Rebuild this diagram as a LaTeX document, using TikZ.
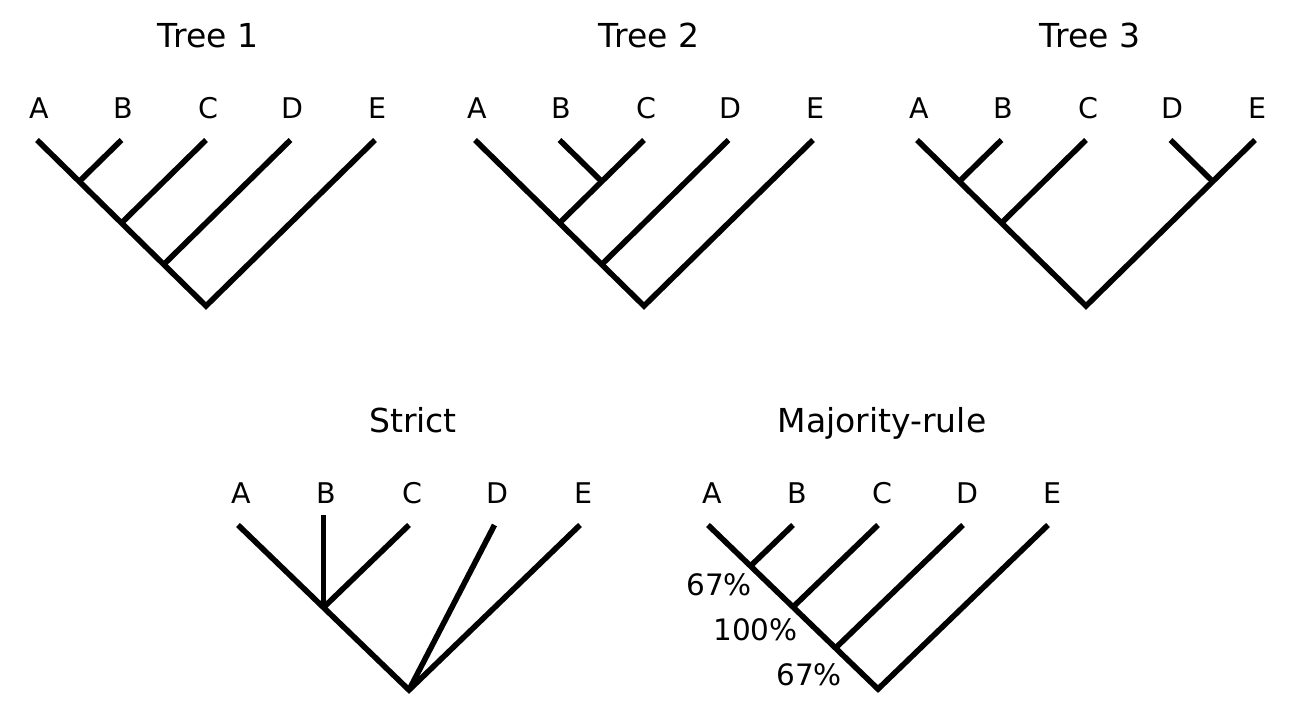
\documentclass[tikz,border=0pt]{standalone}
\usepackage{fontspec}
\setmainfont{DejaVu Sans}
\begin{document}
\begin{tikzpicture}[x=1pt,y=-1pt,
  branch/.style={line width=5.6pt,line cap=butt,line join=miter},
  leaf/.style={font=\fontsize{28.5}{30}\selectfont,anchor=base,inner sep=0pt},
  title/.style={font=\fontsize{33}{35}\selectfont,anchor=base,inner sep=0pt},
  pct/.style={font=\fontsize{29.5}{31}\selectfont,anchor=base east,inner sep=0pt}]
\useasboundingbox[fill=white] (0,0) rectangle (1296,718);
% ---------- Tree 1 ----------
\def\xo{37}\def\d{84.5}\def\t{140}\def\s{0.982}
\node[title] (t1) at (208,47) {Tree 1};
\foreach \n [count=\k from 0] in {A,B,C,D,E}{
  \coordinate (a\n) at ({\xo+\k*\d},\t);
  \node[leaf] (la\n) at ({\xo+\k*\d+2},118) {\n};
}
\coordinate (aAB) at ({\xo+0.5*\d},{\t+\s*0.5*\d});
\coordinate (aABC) at ({\xo+1*\d},{\t+\s*1*\d});
\coordinate (aABCD) at ({\xo+1.5*\d},{\t+\s*1.5*\d});
\coordinate (aR) at ({\xo+2*\d},{\t+\s*2*\d});
\draw[branch] (aA) -- (aR) -- (aE);
\draw[branch] (aB) -- (aAB);
\draw[branch] (aC) -- (aABC);
\draw[branch] (aD) -- (aABCD);
% ---------- Tree 2 ----------
\def\xo{475}
\node[title] (t2) at (649,47) {Tree 2};
\foreach \n [count=\k from 0] in {A,B,C,D,E}{
  \coordinate (b\n) at ({\xo+\k*\d},\t);
  \node[leaf] (lb\n) at ({\xo+\k*\d+2},118) {\n};
}
\coordinate (bBC) at ({\xo+1.5*\d},{\t+\s*0.5*\d});
\coordinate (bABC) at ({\xo+1*\d},{\t+\s*1*\d});
\coordinate (bABCD) at ({\xo+1.5*\d},{\t+\s*1.5*\d});
\coordinate (bR) at ({\xo+2*\d},{\t+\s*2*\d});
\draw[branch] (bA) -- (bR) -- (bE);
\draw[branch] (bB) -- (bBC);
\draw[branch] (bC) -- (bABC);
\draw[branch] (bD) -- (bABCD);
% ---------- Tree 3 ----------
\def\xo{917}
\node[title] (t3) at (1090,47) {Tree 3};
\foreach \n [count=\k from 0] in {A,B,C,D,E}{
  \coordinate (c\n) at ({\xo+\k*\d},\t);
  \node[leaf] (lc\n) at ({\xo+\k*\d+2},118) {\n};
}
\coordinate (cAB) at ({\xo+0.5*\d},{\t+\s*0.5*\d});
\coordinate (cABC) at ({\xo+1*\d},{\t+\s*1*\d});
\coordinate (cDE) at ({\xo+3.5*\d},{\t+\s*0.5*\d});
\coordinate (cR) at ({\xo+2*\d},{\t+\s*2*\d});
\draw[branch] (cA) -- (cR) -- (cE);
\draw[branch] (cB) -- (cAB);
\draw[branch] (cC) -- (cABC);
\draw[branch] (cD) -- (cDE);
% ---------- Strict ----------
\def\xo{238}\def\d{85.5}\def\t{525}\def\s{0.965}
\node[title] (t4) at (413,432) {Strict};
\foreach \n [count=\k from 0] in {A,B,C,D,E}{
  \coordinate (d\n) at ({\xo+\k*\d},\t);
  \node[leaf] (ld\n) at ({\xo+\k*\d+3},503) {\n};
}
\coordinate (dBtop) at ({\xo+\d},515);
\coordinate (dABC) at ({\xo+1*\d},{\t+\s*1*\d});
\coordinate (dR) at ({\xo+2*\d},{\t+\s*2*\d});
\draw[branch] (dA) -- (dR) -- (dE);
\draw[branch] (dBtop) -- (dABC);
\draw[branch] (dC) -- (dABC);
\draw[branch] (dD) -- (dR);
% ---------- Majority-rule ----------
\def\xo{708}\def\d{85}
\node[title] (t5) at (882,432) {Majority-rule};
\foreach \n [count=\k from 0] in {A,B,C,D,E}{
  \coordinate (e\n) at ({\xo+\k*\d},\t);
  \node[leaf] (le\n) at ({\xo+\k*\d+4},503) {\n};
}
\coordinate (eAB) at ({\xo+0.5*\d},{\t+\s*0.5*\d});
\coordinate (eABC) at ({\xo+1*\d},{\t+\s*1*\d});
\coordinate (eABCD) at ({\xo+1.5*\d},{\t+\s*1.5*\d});
\coordinate (eR) at ({\xo+2*\d},{\t+\s*2*\d});
\draw[branch] (eA) -- (eR) -- (eE);
\draw[branch] (eB) -- (eAB);
\draw[branch] (eC) -- (eABC);
\draw[branch] (eD) -- (eABCD);
\node[pct] (p1) at (752,595) {67\%};
\node[pct] (p2) at (798,640) {100\%};
\node[pct] (p3) at (842,685) {67\%};
\end{tikzpicture}
\end{document}
